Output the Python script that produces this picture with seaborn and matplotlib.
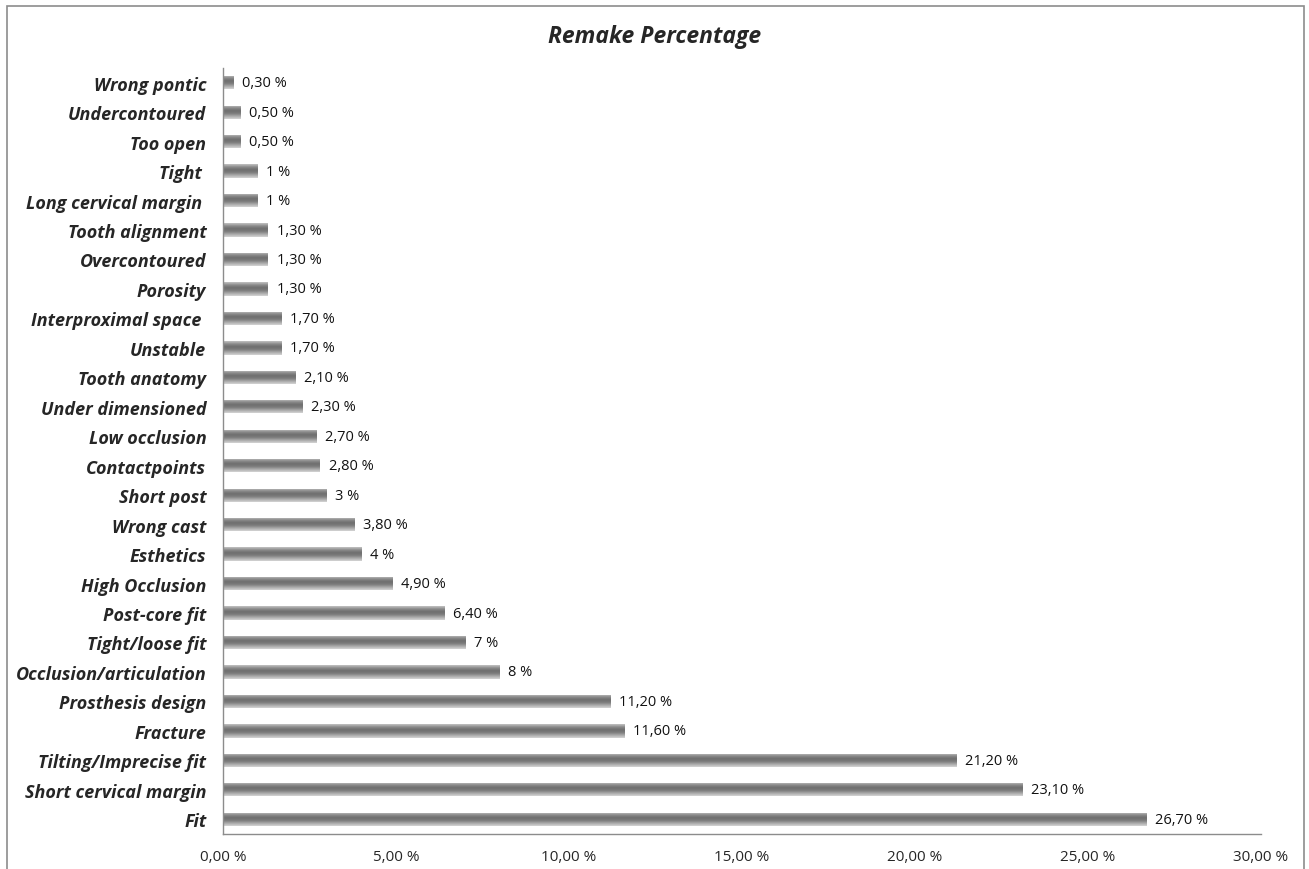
import numpy as np
import pandas as pd
import matplotlib
matplotlib.use("Agg")
import matplotlib.pyplot as plt
from matplotlib.patches import Rectangle
from matplotlib.colors import LinearSegmentedColormap
import seaborn as sns

categories = [
    "Wrong pontic", "Undercontoured", "Too open", "Tight ", "Long cervical margin ",
    "Tooth alignment", "Overcontoured", "Porosity", "Interproximal space ", "Unstable",
    "Tooth anatomy", "Under dimensioned", "Low occlusion", "Contactpoints", "Short post",
    "Wrong cast", "Esthetics", "High Occlusion", "Post-core fit", "Tight/loose fit",
    "Occlusion/articulation", "Prosthesis design", "Fracture", "Tilting/Imprecise fit",
    "Short cervical margin", "Fit",
]
percentages = [
    0.3, 0.5, 0.5, 1, 1,
    1.3, 1.3, 1.3, 1.7, 1.7,
    2.1, 2.3, 2.7, 2.8, 3,
    3.8, 4, 4.9, 6.4, 7,
    8, 11.2, 11.6, 21.2,
    23.1, 26.7,
]
x_ticks = [0, 5, 10, 15, 20, 25, 30]
title = "Remake Percentage"


def fmt_pct(v):
    if float(v).is_integer():
        return f"{int(v)} %"
    return f"{v:.2f}".replace(".", ",") + " %"


def fmt_tick(v):
    return f"{v:.2f}".replace(".", ",") + " %"


sns.set_style("white")
plt.rcParams["font.family"] = ["Open Sans", "DejaVu Sans"]

df = pd.DataFrame({"category": categories, "pct": percentages})

fig = plt.figure(figsize=(13.09, 8.70), dpi=100)
ax = fig.add_axes([223 / 1309, 35 / 870, (1261 - 223) / 1309, (834 - 68) / 870])

sns.barplot(data=df, x="pct", y="category", orient="h", color="#8c8c8c",
            width=0.45, ax=ax, saturation=1)

# cylinder-like shading across each bar
shade = LinearSegmentedColormap.from_list(
    "shade", ["#d6d6d6", "#a8a8a8", "#7c7c7c", "#6e6e6e", "#8a8a8a", "#c4c4c4"])
grad = np.linspace(0, 1, 64).reshape(-1, 1)
for patch in ax.patches:
    x0, y0 = patch.get_x(), patch.get_y()
    w, h = patch.get_width(), patch.get_height()
    patch.set_facecolor("none")
    patch.set_edgecolor("none")
    im = ax.imshow(grad, cmap=shade, aspect="auto", interpolation="bicubic",
                   extent=(x0, x0 + w, y0, y0 + h), zorder=2)
    clip = Rectangle((x0, y0), w, h, transform=ax.transData)
    im.set_clip_path(clip)

ax.set_xlim(0, 30)
ax.set_ylim(len(categories) - 0.5, -0.5)
ax.set_xticks(x_ticks)
ax.set_xticklabels([fmt_tick(t) for t in x_ticks], fontsize=11)
ax.set_xlabel("")
ax.set_ylabel("")
ax.set_yticks(range(len(categories)))
ax.set_yticklabels(categories, fontsize=13, fontweight="bold", fontstyle="italic")
ax.set_yticks(np.arange(-0.5, len(categories), 1), minor=True)
ax.tick_params(axis="y", which="major", length=0, pad=12)
ax.tick_params(axis="y", which="minor", length=5, width=1, color="#8c8c8c", direction="out")
ax.tick_params(axis="x", which="major", length=5, width=1, color="#8c8c8c", direction="out", pad=6)

for s in ["top", "right"]:
    ax.spines[s].set_visible(False)
for s in ["left", "bottom"]:
    ax.spines[s].set_color("#8c8c8c")
    ax.spines[s].set_linewidth(1)

for i, v in enumerate(percentages):
    ax.text(v + 0.25, i, fmt_pct(v), va="center", ha="left", fontsize=10.5, color="#111111")

fig.text(0.5, 1 - 37 / 870, title, ha="center", va="center", fontsize=16.5,
         fontweight="bold", fontstyle="italic")

fig.patches.append(Rectangle((7 / 1309, -0.01), (1304 - 7) / 1309, 1 - 7 / 870 + 0.01,
                             transform=fig.transFigure, fill=False,
                             edgecolor="#8c8c8c", linewidth=1.2))

fig.savefig("out.png", dpi=100)
